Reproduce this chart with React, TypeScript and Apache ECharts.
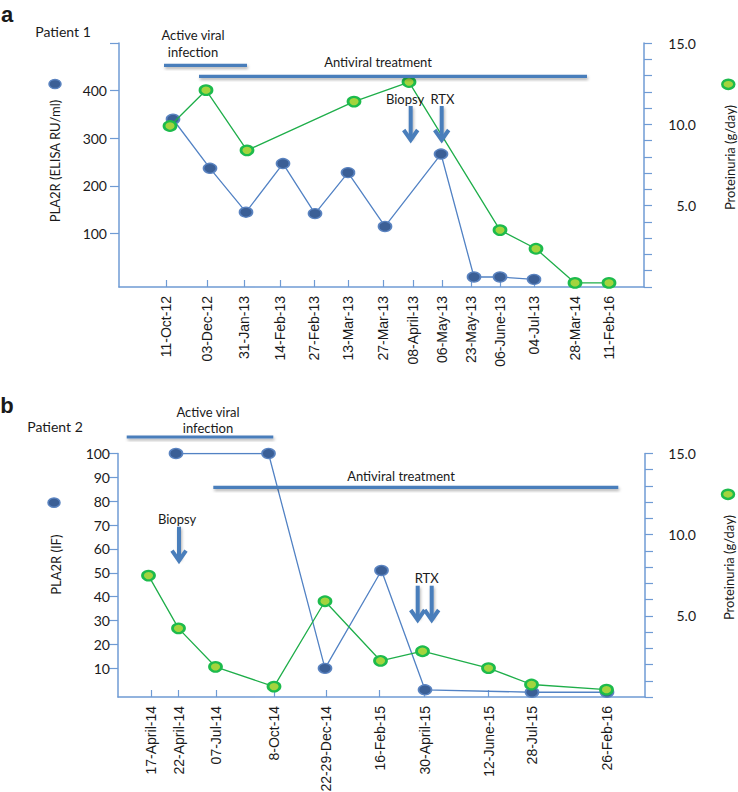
import React, { useEffect, useRef } from "react";
import * as echarts from "echarts";

// ---------- Patient 1 ----------
const p1Dates = ["11-Oct-12", "03-Dec-12", "31-Jan-13", "14-Feb-13", "27-Feb-13", "13-Mar-13", "27-Mar-13", "08-April-13", "06-May-13", "23-May-13", "06-June-13", "04-Jul-13", "28-Mar-14", "11-Feb-16"];
// position of each date along the (non-linear) time axis, in axis units
const p1DatePos = [9.4, 17.6, 25, 32.2, 39, 45.8, 52.8, 58.8, 64.6, 70.4, 76.2, 83, 91.2, 98];
const p1Pla2rPos = [10.8, 18.2, 25.4, 32.8, 39.2, 45.8, 53.2, 64.4, 71, 76.2, 83];
const p1Pla2r = [340, 237, 145, 247, 142, 228, 115, 267, 9, 9, 4];
const p1ProtPos = [10.2, 17.4, 25.6, 47, 58, 76.2, 83.4, 91.2, 98];
const p1Prot = [9.9, 12.1, 8.4, 11.4, 12.6, 3.5, 2.35, 0.25, 0.25];
const p1LeftLabels = [100, 200, 300, 400];
const p1LeftTicks = [100, 200, 300, 400, 500];

// ---------- Patient 2 ----------
const p2Dates = ["17-April-14", "22-April-14", "07-Jul-14", "8-Oct-14", "22-29-Dec-14", "16-Feb-15", "30-April-15", "12-June-15", "28-Jul-15", "26-Feb-16"];
const p2DatePos = [6.6, 12.1, 19.6, 31.2, 41.6, 52.3, 61.3, 74.1, 82.8, 97.8];
const p2Pla2rPos = [11.6, 30.1, 41.4, 52.7, 61.4, 82.8, 97.8];
const p2Pla2r = [100, 100, 10, 51, 1, 0, 0];
const p2ProtPos = [6.1, 12.1, 19.5, 31.2, 41.4, 52.5, 60.9, 74.1, 82.7, 97.7];
const p2Prot = [7.48, 4.23, 1.86, 0.64, 5.9, 2.23, 2.82, 1.78, 0.77, 0.45];
const p2LeftLabels = [10, 20, 30, 40, 50, 60, 70, 80, 90, 100];

const rightLabels = [5, 10, 15];

const AXIS = "#6f9bd4";
const BAR = "#4a7ebb";
const TXT = "#1a1a1a";
const LABEL_FONT = "Lato";
const X_FONT = "'Liberation Sans', Arial, sans-serif";

const zip = (xs: number[], ys: number[]) => xs.map((x, i) => [x, ys[i]]);

const lookup = (pos: number[], names: string[]) => (v: number) => {
  const i = pos.findIndex((p) => Math.abs(p - v) < 0.001);
  return i >= 0 ? names[i] : "";
};

function xAxisCfg(grid: number, max: number, pos: number[], names: string[], margin: number) {
  return {
    type: "value",
    gridIndex: grid,
    min: 0,
    max,
    axisLine: { show: true, onZero: false, lineStyle: { color: AXIS, width: 1.5 } },
    axisTick: { show: true, inside: true, length: 7, customValues: pos, lineStyle: { color: AXIS, width: 1.2 } },
    axisLabel: {
      customValues: pos,
      rotate: 90,
      margin,
      formatter: lookup(pos, names),
      fontSize: 14,
      fontFamily: X_FONT,
      color: TXT,
    },
    splitLine: { show: false },
  };
}

function leftAxisCfg(grid: number, min: number, max: number, labels: number[], ticks: number[], margin: number) {
  return {
    type: "value",
    gridIndex: grid,
    position: "left",
    min,
    max,
    axisLine: { show: true, onZero: false, lineStyle: { color: AXIS, width: 1.5 } },
    axisTick: { show: true, length: 9, customValues: ticks, lineStyle: { color: AXIS, width: 1.2 } },
    axisLabel: { customValues: labels, margin, fontSize: 14, fontFamily: LABEL_FONT, color: TXT },
    splitLine: { show: false },
  };
}

function rightAxisCfg(grid: number, margin: number) {
  return {
    type: "value",
    gridIndex: grid,
    position: "right",
    min: 0,
    max: 15,
    interval: 1,
    axisLine: { show: true, onZero: false, lineStyle: { color: AXIS, width: 1.5 } },
    axisTick: { show: true, length: 8, lineStyle: { color: AXIS, width: 1.2 } },
    axisLabel: {
      customValues: rightLabels,
      formatter: (v: number) => v.toFixed(1),
      align: "right",
      margin,
      fontSize: 14,
      fontFamily: LABEL_FONT,
      color: TXT,
    },
    splitLine: { show: false },
  };
}

const blueSeries = (xi: number, yi: number, data: number[][]) => ({
  type: "line",
  xAxisIndex: xi,
  yAxisIndex: yi,
  data,
  symbol: "circle",
  symbolSize: [13, 10],
  lineStyle: { color: "#5282c4", width: 1.3 },
  itemStyle: { color: "#3b5f96", borderColor: "#5a83c0", borderWidth: 1.5 },
  z: 3,
});

const greenSeries = (xi: number, yi: number, data: number[][]) => ({
  type: "line",
  xAxisIndex: xi,
  yAxisIndex: yi,
  data,
  symbol: "circle",
  symbolSize: [12, 9.5],
  lineStyle: { color: "#1fae4a", width: 1.3 },
  itemStyle: { color: "#a3d43e", borderColor: "#1dbb4c", borderWidth: 2.5 },
  z: 4,
});

const text = (t: string, x: number, y: number, size = 13, rot = 0, extra: any = {}) => ({
  type: "text",
  x,
  y,
  rotation: rot,
  z: 10,
  style: {
    text: t,
    fill: TXT,
    font: `${size}px ${LABEL_FONT}`,
    textAlign: "center",
    textVerticalAlign: "middle",
    align: "center",
    verticalAlign: "middle",
    ...extra,
  },
});

const shadow = { shadowBlur: 3, shadowColor: "rgba(0,0,0,0.3)", shadowOffsetY: 2, shadowOffsetX: 1 };

const bar = (x1: number, x2: number, y: number) => ({
  type: "rect",
  z: 10,
  shape: { x: x1, y: y - 1.6, width: x2 - x1, height: 3.2 },
  style: { fill: BAR, ...shadow },
});

const arrow = (x: number, y0: number, y1: number) => ({
  type: "group",
  z: 10,
  children: [
    { type: "rect", z: 10, shape: { x: x - 2, y: y0, width: 4, height: y1 - y0 - 3 }, style: { fill: BAR, ...shadow } },
    {
      type: "polyline",
      z: 11,
      shape: { points: [[x - 7, y1 - 11], [x, y1 - 1], [x + 7, y1 - 11]] },
      style: { stroke: BAR, lineWidth: 4, fill: null, lineJoin: "miter", lineCap: "butt" },
    },
  ],
});

const dot = (cx: number, cy: number, green: boolean) => ({
  type: "ellipse",
  z: 10,
  shape: { cx, cy, rx: 6, ry: 4.6 },
  style: green
    ? { fill: "#a3d43e", stroke: "#1dbb4c", lineWidth: 2.5 }
    : { fill: "#3b5f96", stroke: "#5a83c0", lineWidth: 1.5 },
});

export default function App() {
  const ref = useRef<HTMLDivElement>(null);
  useEffect(() => {
    if (!ref.current) return;
    const chart = echarts.init(ref.current, undefined, { renderer: "svg" });
    const option: any = {
      animation: false,
      backgroundColor: "#ffffff",
      grid: [
        { left: 119, top: 43, width: 525, height: 244, containLabel: false, outerBoundsMode: "none" },
        { left: 118, top: 453.5, width: 527, height: 243.5, containLabel: false, outerBoundsMode: "none" },
      ],
      xAxis: [xAxisCfg(0, 105, p1DatePos, p1Dates, 9), xAxisCfg(1, 105.4, p2DatePos, p2Dates, 9)],
      yAxis: [
        leftAxisCfg(0, -12, 500, p1LeftLabels, p1LeftTicks, 12),
        rightAxisCfg(0, 52),
        leftAxisCfg(1, -2, 100, p2LeftLabels, p2LeftLabels, 8),
        rightAxisCfg(1, 51),
      ],
      series: [
        blueSeries(0, 0, zip(p1Pla2rPos, p1Pla2r)),
        greenSeries(0, 1, zip(p1ProtPos, p1Prot)),
        blueSeries(1, 2, zip(p2Pla2rPos, p2Pla2r)),
        greenSeries(1, 3, zip(p2ProtPos, p2Prot)),
      ],
      graphic: [
        // panel a
        text("a", 7, 14, 22, 0, { font: "bold 22px 'Liberation Sans', Arial, sans-serif" }),
        text("Patient 1", 63, 31, 14),
        text("Active viral", 193, 35, 13),
        text("infection", 193, 52, 13),
        bar(164, 247, 65.3),
        text("Antiviral treatment", 378, 62, 13),
        bar(199, 587, 76.3),
        text("Biopsy", 405, 99, 13),
        text("RTX", 442.5, 99, 13),
        arrow(410.7, 106, 141),
        arrow(441.7, 106, 141),
        dot(55, 84, false),
        dot(728.3, 84.3, true),
        text("PLA2R (ELISA RU/ml)", 55, 161, 13, Math.PI / 2),
        text("Proteinuria (g/day)", 730, 157.5, 13, Math.PI / 2),
        // panel b
        text("b", 7, 405, 22, 0, { font: "bold 22px 'Liberation Sans', Arial, sans-serif" }),
        text("Patient 2", 55, 426, 14),
        text("Active viral", 208, 411.7, 13),
        text("infection", 208, 428.3, 13),
        bar(126.7, 273.3, 437),
        text("Antiviral treatment", 401, 476, 13),
        bar(213.3, 618.3, 487.3),
        text("Biopsy", 177, 519.3, 13),
        arrow(179, 526.7, 561.7),
        text("RTX", 426.7, 577.7, 13),
        arrow(417.7, 585.7, 621),
        arrow(431.7, 585.7, 621),
        dot(54, 502.7, false),
        dot(728, 494.3, true),
        text("PLA2R (IF)", 56, 564.7, 13, Math.PI / 2),
        text("Proteinuria (g/day)", 729, 567.5, 13, Math.PI / 2),
      ],
    };
    chart.setOption(option);
    return () => chart.dispose();
  }, []);
  return (
    <div
      ref={ref}
      style={{ position: "fixed", left: 0, top: 0, width: 738, height: 792, background: "#fff" }}
    />
  );
}
